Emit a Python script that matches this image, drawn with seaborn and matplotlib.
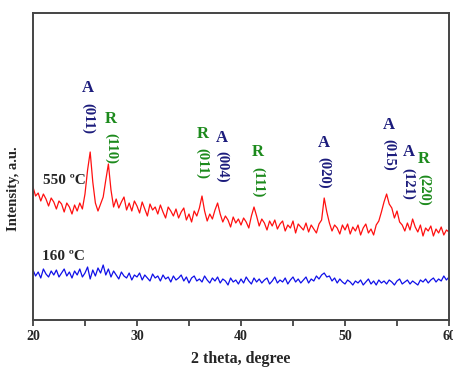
import numpy as np
import pandas as pd
import seaborn as sns
import matplotlib.pyplot as plt

# 2 theta grid, step 0.25 degree (20 .. 60)
two_theta = np.arange(20, 60.001, 0.25)

# intensity (arbitrary units)
i_550 = [133, 124, 127, 119, 126, 121, 114, 122,
         118, 111, 119, 116, 108, 117, 113, 106,
         115, 109, 117, 111, 126, 150, 168, 138,
         117, 109, 116, 123, 140, 156, 130, 113,
         121, 112, 118, 123, 110, 117, 109, 119,
         114, 107, 118, 111, 104, 116, 110, 113,
         106, 115, 108, 102, 113, 109, 104, 111,
         102, 108, 112, 100, 106, 98, 109, 104,
         112, 124, 109, 99, 106, 101, 110, 117,
         106, 98, 104, 100, 93, 103, 97, 101,
         95, 102, 98, 92, 104, 113, 104, 94,
         101, 97, 90, 99, 94, 100, 91, 96,
         99, 89, 95, 92, 99, 87, 96, 93,
         90, 97, 88, 95, 91, 87, 96, 100,
         122, 108, 97, 89, 95, 92, 86, 95,
         90, 96, 86, 93, 89, 95, 85, 92,
         96, 87, 91, 85, 95, 99, 108, 118,
         126, 116, 112, 102, 109, 98, 95, 89,
         97, 90, 101, 93, 88, 95, 84, 92,
         89, 94, 84, 91, 87, 93, 85, 90,
         88]

i_160 = [50, 44, 48, 42, 51, 46, 43, 49,
         45, 50, 43, 47, 51, 44, 48, 42,
         49, 45, 51, 43, 47, 53, 41, 50,
         44, 52, 47, 55, 45, 51, 43, 49,
         45, 41, 48, 44, 42, 47, 40, 45,
         43, 47, 40, 45, 42, 39, 46, 42,
         44, 39, 45, 41, 43, 38, 44, 40,
         42, 45, 39, 43, 37, 42, 44, 39,
         41, 38, 44, 40, 37, 42, 39, 43,
         37, 41, 39, 35, 42, 38, 40, 36,
         41, 37, 43, 39, 36, 42, 38, 41,
         37, 40, 42, 36, 39, 43, 37, 40,
         38, 42, 36, 40, 43, 38, 41, 37,
         40, 43, 37, 41, 39, 44, 41, 45,
         47, 43, 44, 39, 42, 37, 41, 38,
         36, 40, 38, 35, 39, 37, 40, 35,
         38, 41, 36, 39, 35, 40, 37, 39,
         36, 40, 38, 35, 39, 41, 36, 38,
         40, 36, 39, 37, 35, 40, 38, 41,
         37, 40, 42, 38, 41, 39, 44, 40,
         43]

# peak labels: phase, hkl, 2theta, height of letter, height of hkl centre
phase = ['A', 'R', 'R', 'A', 'R', 'A', 'A', 'A', 'R']
hkl = ['(011)', '(110)', '(011)', '(004)', '(111)', '(020)', '(015)', '(121)', '(220)']
peak_pos = [25.3, 27.5, 36.3, 38.2, 41.6, 47.95, 54.2, 56.1, 57.6]
letter_y = [232, 201, 186, 182, 168, 177, 195, 168, 161]
hkl_y = [202, 172, 157, 153, 138, 147, 165, 136, 130]

df = pd.DataFrame({'two_theta': np.concatenate([two_theta, two_theta]),
                   'intensity': i_550 + i_160,
                   'sample': ['550'] * len(i_550) + ['160'] * len(i_160)})

sns.set_style('white')
plt.rcParams['font.family'] = ['Liberation Serif', 'DejaVu Serif']
plt.rcParams['font.weight'] = 'bold'

fig = plt.figure(figsize=(4.53, 3.74), dpi=100)
ax = fig.add_axes([0.0728, 0.1444, 0.9184, 0.8208])

sns.lineplot(data=df, x='two_theta', y='intensity', hue='sample',
             palette={'550': '#ff1010', '160': '#1010e8'}, linewidth=0.9,
             legend=False, ax=ax)

ax.set_xlim(20, 60)
ax.set_ylim(0, 307)
ax.set_yticks([])
ax.set_xticks([20, 30, 40, 50, 60])
ax.set_xticks([25, 35, 45, 55], minor=True)
ax.tick_params(axis='x', which='both', direction='out', length=4, width=1.2,
               color='#333333', bottom=True, labelsize=10, pad=3)
for lab in ax.get_xticklabels():
    lab.set_fontweight('bold')
for s in ax.spines.values():
    s.set_color('#444444')
    s.set_linewidth(1.4)

ax.set_xlabel('2 theta, degree', fontsize=11.5, fontweight='bold', labelpad=6)
ax.set_ylabel('Intensity, a.u.', fontsize=10.5, fontweight='bold')
ax.yaxis.set_label_coords(-0.031, 0.427)

ax.text(21.0, 140, '550 \u00baC', fontsize=11, fontweight='bold', va='center')
ax.text(20.9, 63, '160 \u00baC', fontsize=11, fontweight='bold', va='center')

colors = {'A': '#1c1c7c', 'R': '#1c8a1c'}
for p, h, x, ly, hy in zip(phase, hkl, peak_pos, letter_y, hkl_y):
    c = colors[p]
    ax.text(x, ly, p, color=c, fontsize=12, fontweight='bold',
            ha='center', va='center')
    ax.text(x, hy, h, color=c, fontsize=10.5, fontweight='bold',
            ha='center', va='center', rotation=270)

fig.savefig('out.png', dpi=100)
